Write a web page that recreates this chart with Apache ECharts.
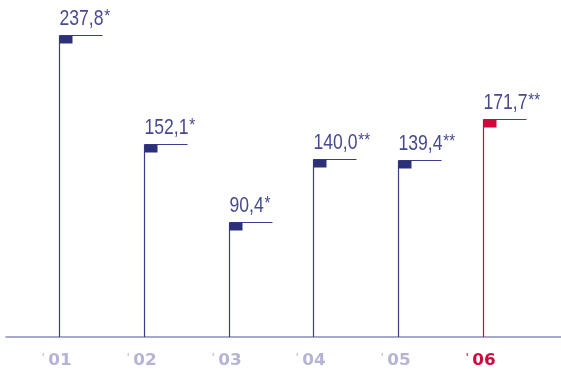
<!DOCTYPE html>
<html><head><meta charset="utf-8">
<script src="https://cdn.jsdelivr.net/npm/echarts@6/dist/echarts.min.js"></script>
<style>html,body{margin:0;padding:0;background:#fff}#c{width:561px;height:370px}</style>
</head><body><div id="c"></div>
<script>
const years = ["01", "02", "03", "04", "05", "06"];
const values = [237.8, 152.1, 90.4, 140.0, 139.4, 171.7];
const valueLabels = ["237,8", "152,1", "90,4", "140,0", "139,4", "171,7"];
const footnotes = ["*", "*", "*", "**", "**", "**"];
const highlighted = [false, false, false, false, false, true];

const NAVY = '#3a3e88', NAVY_SQ = '#2b3079', RED = '#d2073e', TXT = '#474b8d', TICK = '#b5b4d4', AXIS = '#8a8dba';

const chart = echarts.init(document.getElementById('c'), null, {renderer: 'canvas'});
const data = values.map((v, i) => [i, v]);

chart.setOption({
  animation: false,
  backgroundColor: '#fff',
  grid: {left: 6, right: 0, top: 0, bottom: 33},
  xAxis: {
    type: 'value', min: -0.63, max: 5.923,
    axisLine: {show: true, onZero: false, lineStyle: {color: AXIS, width: 1.5}},
    axisTick: {show: false}, axisLabel: {show: false}, splitLine: {show: false}
  },
  yAxis: {
    type: 'value', min: 0, max: 265.4, show: false, splitLine: {show: false}
  },
  series: [{
    type: 'custom',
    clip: false,
    data: data,
    renderItem: function (params, api) {
      const i = api.value(0), v = api.value(1);
      const p0 = api.coord([i, 0]);
      const p1 = api.coord([i, v]);
      const hl = highlighted[i];
      const lc = hl ? RED : NAVY;
      const sc = hl ? RED : NAVY_SQ;
      const x = Math.round(p0[0]) + 0.5;
      const yt = Math.round(p1[1]) + 0.5;
      const F = '"Liberation Sans", Arimo, sans-serif';
      return {
        type: 'group',
        children: [
          {type: 'line', shape: {x1: x, y1: p0[1], x2: x, y2: yt}, style: {stroke: lc, lineWidth: 1.2}},
          {type: 'line', shape: {x1: x, y1: yt, x2: x + 43, y2: yt}, style: {stroke: lc, lineWidth: 1.2}},
          {type: 'rect', shape: {x: x, y: yt, width: 13, height: 8}, style: {fill: sc}},
          {type: 'text', x: x, y: yt - 5, scaleX: 0.8, scaleY: 1, style: {
            text: '{n|' + valueLabels[i] + '}{s|' + footnotes[i] + '}',
            verticalAlign: 'bottom', align: 'left',
            rich: {
              n: {fontFamily: F, fontSize: 22, fill: TXT, lineHeight: 24},
              s: {fontFamily: F, fontSize: 19, fill: TXT, lineHeight: 24, padding: [0, 0, 4, 1]}
            }
          }},
          {type: 'text', x: x - 18, y: p0[1] + 16, scaleX: 1.12, scaleY: 1, style: {
            text: "{a|'}{b|" + years[i] + '}',
            verticalAlign: 'top', align: 'left',
            rich: {
              a: {fontFamily: 'DejaVu Sans', fontSize: 11, fill: hl ? RED : TICK, verticalAlign: 'top', padding: [0, 3, 6, 0]},
              b: {fontFamily: 'DejaVu Sans', fontWeight: 'bold', fontSize: 15, fill: hl ? RED : TICK}
            }
          }}
        ]
      };
    }
  }]
});
</script>
</body></html>
